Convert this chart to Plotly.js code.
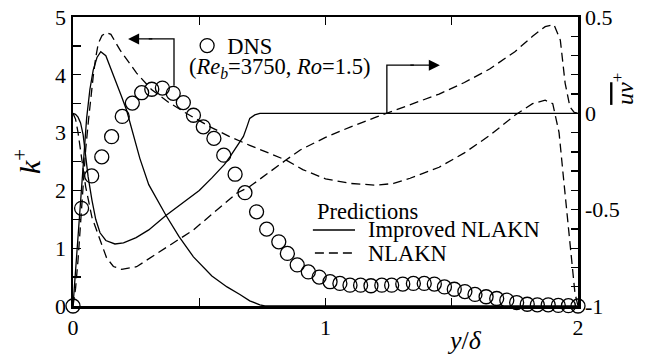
<!DOCTYPE html>
<html>
<head>
<meta charset="utf-8">
<script src="https://cdn.plot.ly/plotly-3.0.1.min.js"></script>
<style>html,body{margin:0;padding:0;background:#fff;}#chart{width:651px;height:354px;}</style>
</head>
<body>
<div id="chart"></div>
<script>
// DNS data (k+)
var xDNS = [0, 0.034, 0.074, 0.114, 0.153, 0.195, 0.235, 0.272, 0.312, 0.354, 0.397, 0.437, 0.477, 0.516, 0.558, 0.597, 0.642, 0.681, 0.727, 0.767, 0.815, 0.849, 0.888, 0.932, 0.975, 1.018, 1.057, 1.097, 1.139, 1.180, 1.223, 1.262, 1.306, 1.348, 1.391, 1.431, 1.471, 1.510, 1.552, 1.592, 1.636, 1.678, 1.718, 1.757, 1.799, 1.839, 1.882, 1.922, 1.962, 2.0];
var kDNS = [0, 1.69, 2.25, 2.58, 2.93, 3.28, 3.51, 3.69, 3.75, 3.77, 3.68, 3.52, 3.30, 3.10, 2.90, 2.61, 2.28, 1.96, 1.63, 1.33, 1.11, 0.91, 0.71, 0.59, 0.50, 0.42, 0.39, 0.36, 0.36, 0.35, 0.36, 0.36, 0.38, 0.39, 0.39, 0.38, 0.33, 0.29, 0.25, 0.20, 0.16, 0.13, 0.10, 0.06, 0.03, 0.02, 0.02, 0.01, 0.005, 0];

// Improved NLAKN, k+
var xImpK = [0, 0.01, 0.02, 0.03, 0.042, 0.054, 0.067, 0.08, 0.095, 0.11, 0.13, 0.16, 0.19, 0.212, 0.24, 0.265, 0.3, 0.368, 0.42, 0.477, 0.55, 0.61, 0.661, 0.7, 0.74, 0.76, 2.0];
var kImp = [0, 0.6, 1.25, 1.95, 2.65, 3.25, 3.75, 4.08, 4.3, 4.4, 4.33, 4.0, 3.65, 3.39, 2.95, 2.55, 2.1, 1.57, 1.2, 0.85, 0.52, 0.33, 0.2, 0.09, 0.02, 0, 0];

// Improved NLAKN, uv+
var xImpUV = [0, 0.01, 0.02, 0.03, 0.04, 0.0475, 0.06, 0.075, 0.09, 0.107, 0.13, 0.166, 0.2, 0.25, 0.3, 0.368, 0.45, 0.5, 0.55, 0.6, 0.622, 0.65, 0.675, 0.69, 0.70, 0.72, 0.74, 2.0];
var uvImp = [0, -0.005, -0.02, -0.05, -0.11, -0.2, -0.33, -0.45, -0.55, -0.62, -0.66, -0.678, -0.672, -0.645, -0.605, -0.53, -0.45, -0.40, -0.335, -0.265, -0.225, -0.17, -0.12, -0.065, -0.026, -0.008, 0, 0];

// NLAKN, k+
var xNlK = [0, 0.01, 0.02, 0.03, 0.041, 0.05, 0.061, 0.07, 0.08, 0.09, 0.1, 0.115, 0.133, 0.15, 0.186, 0.252, 0.312, 0.38, 0.45, 0.543, 0.62, 0.7, 0.78, 0.846, 0.91, 1.0, 1.1, 1.2, 1.27, 1.335, 1.45, 1.55, 1.65, 1.75, 1.82, 1.87, 1.9, 1.925, 1.942, 1.96, 1.975, 1.988, 2.0];
var kNl = [0, 0.3, 0.8, 1.4, 2.2, 2.7, 3.2, 3.6, 3.97, 4.3, 4.54, 4.68, 4.73, 4.7, 4.43, 4.03, 3.74, 3.52, 3.33, 3.10, 2.93, 2.78, 2.64, 2.52, 2.36, 2.2, 2.12, 2.09, 2.12, 2.21, 2.4, 2.65, 2.95, 3.3, 3.5, 3.56, 3.5, 3.0, 2.24, 1.4, 0.7, 0.22, 0];

// NLAKN, uv+
var xNlUV = [0, 0.01, 0.02, 0.03, 0.05, 0.075, 0.107, 0.133, 0.16, 0.193, 0.252, 0.345, 0.477, 0.648, 0.70, 0.846, 0.9, 1.0, 1.1, 1.2, 1.335, 1.45, 1.55, 1.65, 1.75, 1.82, 1.87, 1.905, 1.93, 1.949, 1.968, 1.985, 2.0];
var uvNl = [0, -0.03, -0.1, -0.2, -0.38, -0.54, -0.66, -0.75, -0.795, -0.81, -0.796, -0.718, -0.605, -0.415, -0.38, -0.24, -0.19, -0.125, -0.07, -0.02, 0.043, 0.1, 0.16, 0.23, 0.32, 0.40, 0.45, 0.46, 0.38, 0.157, 0.034, 0.005, 0];

// Tick labels
var xTickVals = [0, 1, 2];
var xTickText = ["0", "1", "2"];
var yTickVals = [0, 1, 2, 3, 4, 5];
var yTickText = ["0", "1", "2", "3", "4", "5"];
var y2TickVals = [-1, -0.5, 0, 0.5];
var y2TickText = ["-1", "-0.5", "0", "0.5"];

var FONT = "Liberation Serif";
var TXT = 22.5;
var solid = {color: "#000", width: 1.3};
var dashed = {color: "#000", width: 1.3, dash: "9px,5px"};

var traces = [
  {x: xImpK, y: kImp, mode: "lines", line: solid, showlegend: false, name: "Improved NLAKN k+", cliponaxis: false},
  {x: xImpUV, y: uvImp, yaxis: "y2", mode: "lines", line: solid, showlegend: false, name: "Improved NLAKN uv+", cliponaxis: false},
  {x: xNlK, y: kNl, mode: "lines", line: dashed, showlegend: false, name: "NLAKN k+", cliponaxis: false},
  {x: xNlUV, y: uvNl, yaxis: "y2", mode: "lines", line: dashed, showlegend: false, name: "NLAKN uv+", cliponaxis: false},
  {x: xDNS, y: kDNS, mode: "markers", name: "DNS", cliponaxis: false,
   marker: {symbol: "circle", size: 14, color: "rgba(255,255,255,0)", line: {color: "#000", width: 1.3}}}
];

var tickMinor = function (d, len) { return {dtick: d, ticks: "inside", ticklen: len, tickwidth: 1.3, tickcolor: "#000", showgrid: false}; };

var layout = {
  width: 651, height: 354,
  margin: {l: 73, r: 73, t: 17, b: 48},
  paper_bgcolor: "#fff", plot_bgcolor: "#fff",
  font: {family: FONT, size: 22, color: "#000"},
  showlegend: true,
  legend: {x: 0.226, xanchor: "left", y: 0.8997, yanchor: "middle", bgcolor: "rgba(0,0,0,0)",
           font: {family: FONT, size: TXT, color: "#000"}, borderwidth: 0},
  xaxis: {range: [0, 2], showline: true, linewidth: 2.5, linecolor: "#000", mirror: "allticks",
          ticks: "inside", ticklen: 8, tickwidth: 1.3, tickcolor: "#000",
          tickvals: xTickVals, ticktext: xTickText, showgrid: false, zeroline: false,
          minor: tickMinor(0.5, 8),
          tickfont: {family: FONT, size: 22}},
  yaxis: {range: [0, 5], showline: true, linewidth: 2.5, linecolor: "#000", mirror: true,
          ticks: "inside", ticklen: 8, tickwidth: 1.3, tickcolor: "#000",
          tickvals: yTickVals, ticktext: yTickText, showgrid: false, zeroline: false,
          minor: tickMinor(0.5, 8),
          tickfont: {family: FONT, size: 22},
          title: {text: "<i>k</i><sup>+</sup>", font: {family: FONT, size: 30}, standoff: 6}},
  yaxis2: {range: [-1, 0.5], overlaying: "y", side: "right", showline: true, linewidth: 2.5, linecolor: "#000",
           ticks: "inside", ticklen: 7, tickwidth: 1.3, tickcolor: "#000",
           tickvals: y2TickVals, ticktext: y2TickText, showgrid: false, zeroline: false,
           minor: tickMinor(0.1, 7),
           tickfont: {family: FONT, size: 22}},
  shapes: [
    {type: "path", xref: "x", yref: "y", path: "M0.4,3.81 L0.4,4.62 L0.3,4.62", line: {color: "#000", width: 1.3}},
    {type: "path", xref: "x", yref: "y2", path: "M1.243,0 L1.243,0.25 L1.35,0.25", line: {color: "#000", width: 1.3}},
    {type: "line", xref: "x", yref: "y", x0: 0.950, x1: 1.117, y0: 1.315, y1: 1.315, line: {color: "#000", width: 1.3}},
    {type: "line", xref: "x", yref: "y", x0: 0.958, x1: 1.117, y0: 0.917, y1: 0.917, line: {color: "#000", width: 1.3, dash: "9px,5px"}}
  ],
  annotations: [
    {x: 0.218, y: 4.62, xref: "x", yref: "y", ax: 0.32, ay: 4.62, axref: "x", ayref: "y", text: "",
     showarrow: true, arrowhead: 2, arrowsize: 1.7, arrowwidth: 1.3, arrowcolor: "#000", standoff: 0},
    {x: 1.453, y: 0.25, xref: "x", yref: "y2", ax: 1.33, ay: 0.25, axref: "x", ayref: "y2", text: "",
     showarrow: true, arrowhead: 2, arrowsize: 1.7, arrowwidth: 1.3, arrowcolor: "#000", standoff: 0},
    {x: 0.818, y: 4.12, xref: "x", yref: "y", text: "(<i>Re<sub>b</sub></i>=3750, <i>Ro</i>=1.5)",
     showarrow: false, font: {family: FONT, size: TXT}},
    {x: 0.958, y: 1.64, xref: "x", yref: "y", xanchor: "left", text: "Predictions",
     showarrow: false, font: {family: FONT, size: TXT}},
    {x: 1.16, y: 1.315, xref: "x", yref: "y", xanchor: "left", text: "Improved NLAKN",
     showarrow: false, font: {family: FONT, size: TXT}},
    {x: 1.16, y: 0.917, xref: "x", yref: "y", xanchor: "left", text: "NLAKN",
     showarrow: false, font: {family: FONT, size: TXT}},
    {x: 1.552, y: -0.118, xref: "x", yref: "paper", xanchor: "center", yanchor: "middle", text: "<i>y</i>/<i>δ</i>",
     showarrow: false, font: {family: FONT, size: 26}},
    {x: 1.089, y: 0.751, xref: "paper", yref: "paper", xanchor: "center", yanchor: "middle", textangle: -90,
     text: "<span style=\"text-decoration:overline\"><i>uv</i></span><sup>+</sup>",
     showarrow: false, font: {family: FONT, size: 24}}
  ]
};

Plotly.newPlot("chart", traces, layout, {displayModeBar: false, staticPlot: true});
</script>
</body>
</html>
